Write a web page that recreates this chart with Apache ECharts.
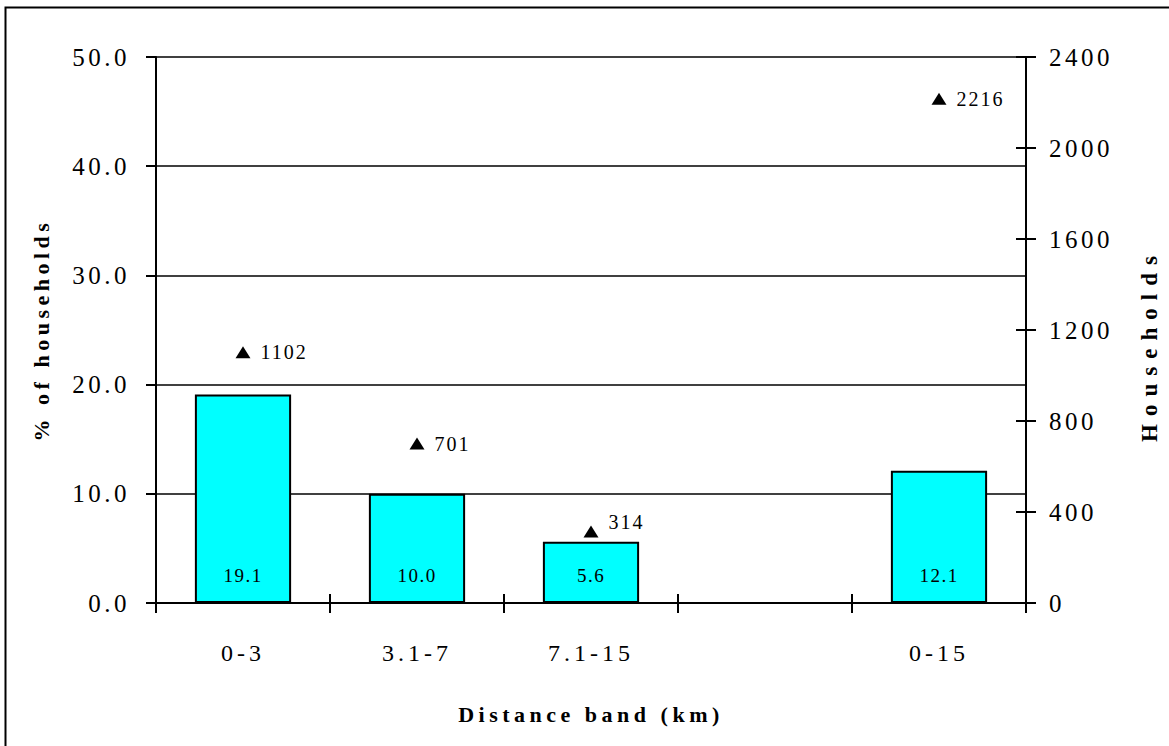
<!DOCTYPE html>
<html>
<head>
<meta charset="utf-8">
<script src="https://cdn.jsdelivr.net/npm/echarts@6/dist/echarts.min.js"></script>
<style>
  html, body { margin: 0; padding: 0; background: #fff; }
  #chart { width: 1169px; height: 746px; }
  /* spaced-out lettering, keyed on the font size each group of text uses */
  #chart text[style*="25px"] { letter-spacing: 3.5px; }
  #chart text[style*="24px"] { letter-spacing: 4px; }
  #chart text[style*="19px"] { letter-spacing: 1.5px; }
  #chart text[style*="20px"] { letter-spacing: 2px; }
  #chart text[style*="22px"] { letter-spacing: 4.5px; }
  #chart text[style*="23px"] { letter-spacing: 8px; }
</style>
</head>
<body>
<div id="chart"></div>
<script>
// Distance bands along the x axis (the fourth slot is a spacer before the total)
const categories = ['0-3', '3.1-7', '7.1-15', '', '0-15'];
// Share of households per band, left axis (%)
const sharePct = [19.1, 10.0, 5.6, null, 12.1];
// Number of households per band, right axis
const households = [1102, 701, 314, null, 2216];
// Axis ranges
const pctAxis = { min: 0, max: 50, interval: 10 };
const hhAxis = { min: 0, max: 2400, interval: 400 };

const FONT = '"Liberation Serif", "Times New Roman", serif';
const INK = '#000';
const line = { color: INK, width: 2 };

// small upward shift for the label that would otherwise touch its bar
const labelLift = { 2: [0, -10] };

const chart = echarts.init(document.getElementById('chart'), null, { renderer: 'svg' });

const option = {
  backgroundColor: '#fff',
  animation: false,
  textStyle: { fontFamily: FONT, color: INK },
  graphic: [{
    type: 'rect', silent: true,
    shape: { x: 5.5, y: 7.5, width: 1300, height: 900 },
    style: { fill: null, stroke: INK, lineWidth: 2 }
  }],
  grid: { left: 156, right: 143, top: 57, bottom: 143 },
  xAxis: [
    {
      type: 'category', data: categories,
      axisLine: { show: true, lineStyle: line },
      axisTick: { show: true, length: 10, alignWithLabel: false, interval: 0, lineStyle: line },
      axisLabel: { fontSize: 24, margin: 38, color: INK, fontFamily: FONT, interval: 0 },
      name: 'Distance band (km)', nameLocation: 'middle', nameGap: 100,
      nameTextStyle: { fontSize: 22, fontWeight: 'bold', color: INK, fontFamily: FONT }
    },
    {
      type: 'category', data: categories, position: 'bottom',
      axisLine: { show: false },
      axisTick: { show: true, inside: true, length: 9, alignWithLabel: false, interval: 0, lineStyle: line },
      axisLabel: { show: false }
    }
  ],
  yAxis: [
    {
      type: 'value', position: 'left', ...pctAxis,
      axisLine: { show: true, lineStyle: line },
      axisTick: { show: true, length: 10, lineStyle: line },
      axisLabel: { fontSize: 25, margin: 26, color: INK, fontFamily: FONT,
                   padding: [8, 0, 0, 0], formatter: v => v.toFixed(1) },
      splitLine: { show: true, lineStyle: { color: INK, width: 1.5 } },
      name: '% of households', nameLocation: 'middle', nameRotate: 90, nameGap: 104,
      nameTextStyle: { fontSize: 22, fontWeight: 'bold', color: INK, fontFamily: FONT }
    },
    {
      type: 'value', position: 'right', ...hhAxis,
      axisLine: { show: true, lineStyle: line },
      axisTick: { show: true, length: 10, lineStyle: line },
      axisLabel: { fontSize: 25, margin: 23, color: INK, fontFamily: FONT,
                   padding: [8, 0, 0, 0], formatter: v => String(v) },
      splitLine: { show: false },
      name: 'Households', nameLocation: 'middle', nameRotate: 90, nameGap: 112,
      nameTextStyle: { fontSize: 23, fontWeight: 'bold', color: INK, fontFamily: FONT,
                       padding: [0, 30, 0, 0] }
    },
    {
      type: 'value', position: 'right', ...hhAxis,
      axisLine: { show: false },
      axisTick: { show: true, inside: true, length: 10, lineStyle: line },
      axisLabel: { show: false },
      splitLine: { show: false }
    }
  ],
  series: [
    {
      type: 'bar', xAxisIndex: 0, yAxisIndex: 0,
      data: sharePct.map(v => (v == null ? '-' : v)),
      barWidth: '55.3%',
      itemStyle: { color: '#00ffff', borderColor: INK, borderWidth: 2, opacity: 1 },
      label: { show: true, position: 'insideBottom', distance: 18, fontSize: 19,
               color: INK, fontFamily: FONT, formatter: p => p.value.toFixed(1) },
      emphasis: { disabled: true }
    },
    {
      type: 'scatter', xAxisIndex: 0, yAxisIndex: 1,
      symbol: 'triangle', symbolSize: [15, 12],
      itemStyle: { color: INK, opacity: 1 },
      data: households.map((v, i) => (v == null ? '-' : {
        value: [i, v],
        label: labelLift[i] ? { offset: labelLift[i] } : {}
      })),
      label: { show: true, position: 'right', distance: 10, fontSize: 20,
               color: INK, fontFamily: FONT, formatter: p => String(p.value[1]) },
      emphasis: { disabled: true }
    }
  ]
};

chart.setOption(option);
</script>
</body>
</html>
